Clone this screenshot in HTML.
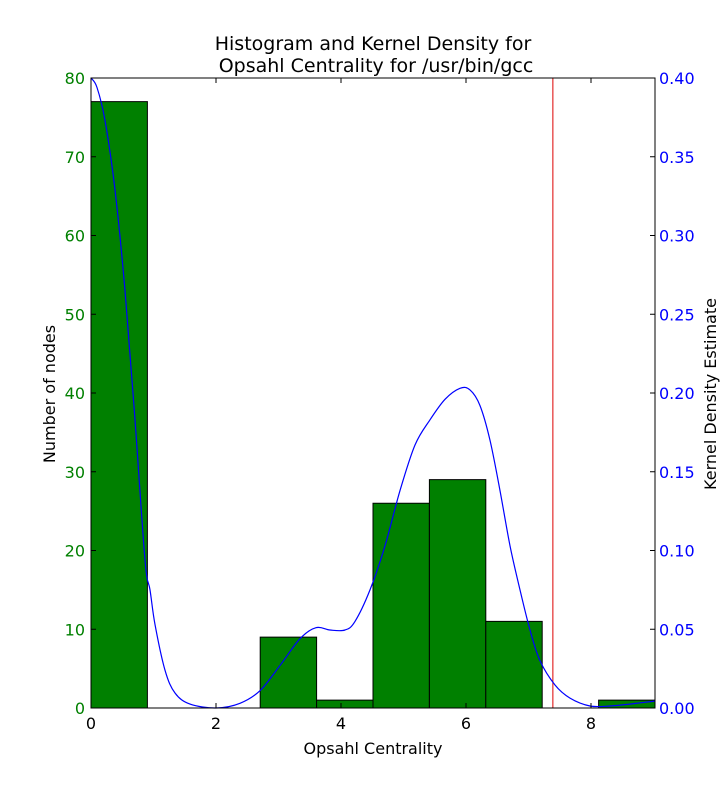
<!DOCTYPE html>
<html><head><meta charset="utf-8"><style>
html,body{margin:0;padding:0;background:#fff;}
svg{display:block;font-family:"DejaVu Sans","Liberation Sans",sans-serif;}
</style></head><body>
<svg id="chart" width="727" height="788" viewBox="0 0 727 788" xmlns="http://www.w3.org/2000/svg"></svg>
<script>
const binEdgesStart = 0;
const binWidth = 0.9024;
const counts = [77, 0, 0, 9, 1, 26, 29, 11, 0, 1];
const kdeX = [0,0.096,0.224,0.384,0.544,0.704,0.864,0.944,1.024,1.184,1.344,1.584,2.0,2.384,2.704,3.024,3.344,3.6,3.824,4.064,4.224,4.464,4.704,4.944,5.184,5.424,5.664,5.904,6.064,6.224,6.384,6.544,6.704,6.864,7.024,7.184,7.424,7.664,7.984,8.304,8.624,9.024];
const kdeY = [0.40,0.394,0.373,0.329,0.265,0.183,0.094,0.075,0.053,0.024,0.0095,0.0025,0,0.003,0.011,0.027,0.044,0.051,0.0495,0.0495,0.055,0.075,0.103,0.138,0.167,0.183,0.196,0.203,0.202,0.192,0.170,0.138,0.103,0.075,0.0495,0.030,0.0146,0.0063,0.0013,0.0013,0.0025,0.0044];
const xTicks = [0, 2, 4, 6, 8];
const yLeftTicks = [0,10,20,30,40,50,60,70,80];
const yRightTicks = [0,0.05,0.10,0.15,0.20,0.25,0.30,0.35,0.40];
const markerX = 7.39;

const L=91,R=655,T=78,B=708,XMAX=9.024;
const sx=v=>L+(v/XMAX)*(R-L);
const syL=v=>B-(v/80)*(B-T);
const syR=v=>B-(v/0.4)*(B-T);
const NS="http://www.w3.org/2000/svg";
const svg=document.getElementById('chart');
function mk(tag,attrs,txt){const e=document.createElementNS(NS,tag);for(const k in attrs)e.setAttribute(k,attrs[k]);if(txt!==undefined)e.textContent=txt;svg.appendChild(e);return e;}

counts.forEach((c,i)=>{
  if(c<=0)return;
  const x0=sx(binEdgesStart+i*binWidth),x1=sx(binEdgesStart+(i+1)*binWidth);
  const r=mk('rect',{x:x0,y:syL(c),width:x1-x0,height:B-syL(c),fill:'#008000',stroke:'#000','stroke-width':1});
  
  
});
const line=mk('line',{x1:sx(markerX),x2:sx(markerX),y1:T,y2:B,stroke:'#d00','stroke-width':1});


const pts=kdeX.map((x,i)=>[sx(x),syR(kdeY[i])]);
let d='M'+pts[0][0].toFixed(1)+' '+pts[0][1].toFixed(1);
for(let i=0;i<pts.length-1;i++){
  const p0=pts[Math.max(0,i-1)],p1=pts[i],p2=pts[i+1],p3=pts[Math.min(pts.length-1,i+2)];
  const c1=[p1[0]+(p2[0]-p0[0])/6,p1[1]+(p2[1]-p0[1])/6];
  const c2=[p2[0]-(p3[0]-p1[0])/6,p2[1]-(p3[1]-p1[1])/6];
  d+=` C${c1[0].toFixed(1)} ${c1[1].toFixed(1)} ${c2[0].toFixed(1)} ${c2[1].toFixed(1)} ${p2[0].toFixed(1)} ${p2[1].toFixed(1)}`;
}
const p=mk('path',{d:d,fill:'none',stroke:'#0000ff','stroke-width':1.2});


const frame=mk('rect',{x:L,y:T,width:R-L,height:B-T,fill:'none',stroke:'#000','stroke-width':1});



xTicks.forEach(v=>{
  const x=sx(v);
  mk('line',{x1:x,x2:x,y1:B,y2:B-5,stroke:'#000'});
  mk('line',{x1:x,x2:x,y1:T,y2:T+5,stroke:'#000'});
  const t=mk('text',{x:x,y:B+21,'text-anchor':'middle','font-size':16,fill:'#000'},String(v));
  
  
});
yLeftTicks.forEach(v=>{
  const y=syL(v);
  mk('line',{x1:L,x2:L+5,y1:y,y2:y,stroke:'#000'});
  const t=mk('text',{x:L-6,y:y+6,'text-anchor':'end','font-size':16,fill:'#008000'},String(v));
  
  
});
yRightTicks.forEach(v=>{
  const y=syR(v);
  mk('line',{x1:R,x2:R-5,y1:y,y2:y,stroke:'#000'});
  const t=mk('text',{x:R+4,y:y+6,'text-anchor':'start','font-size':16,fill:'#0000ff'},v.toFixed(2));
  
  
});
let t;
t=mk('text',{x:373,y:50,'text-anchor':'middle','font-size':19},'Histogram and Kernel Density for');


t=mk('text',{x:376,y:72,'text-anchor':'middle','font-size':19},'Opsahl Centrality for /usr/bin/gcc');


t=mk('text',{x:373,y:754,'text-anchor':'middle','font-size':16},'Opsahl Centrality');


t=mk('text',{x:55,y:394,'text-anchor':'middle','font-size':16,transform:'rotate(-90 55 394)'},'Number of nodes');


t=mk('text',{x:716,y:394,'text-anchor':'middle','font-size':16,transform:'rotate(-90 716 394)'},'Kernel Density Estimate');


</script>
</body></html>
